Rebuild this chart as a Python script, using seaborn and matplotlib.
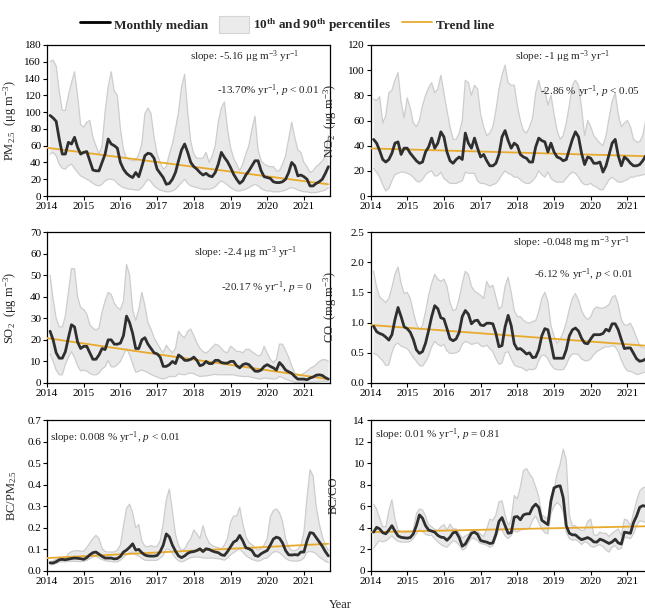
import numpy as np
import pandas as pd
import matplotlib
matplotlib.use("Agg")
import matplotlib.pyplot as plt
import seaborn as sns
from matplotlib.lines import Line2D
from matplotlib.patches import Patch

# ---------------- data (monthly, Feb 2014 .. Sep 2021) ----------------
months = pd.date_range("2014-02-01", periods=92, freq="MS")

pm25_med = [96, 93, 89, 68, 50, 50, 64, 62, 70, 58, 50, 52, 53, 42, 31, 30, 30, 40, 50, 68, 62, 60, 57, 40,
            32, 27, 24, 22, 28, 23, 35, 48, 51, 50, 45, 32, 27, 22, 14, 15, 20, 28, 42, 55, 62, 52, 40, 35,
            32, 28, 25, 27, 24, 23, 28, 38, 52, 46, 41, 34, 26, 20, 15, 18, 25, 30, 36, 42, 42, 30, 23, 22,
            21, 17, 16, 16, 17, 20, 28, 40, 36, 24, 25, 23, 20, 12, 12, 15, 17, 20, 27, 35]
pm25_p90 = [160, 162, 155, 125, 102, 102, 120, 135, 148, 120, 85, 82, 88, 90, 70, 60, 50, 60, 100, 130, 148, 125, 120, 80,
            55, 45, 43, 42, 42, 50, 62, 98, 105, 98, 70, 50, 40, 32, 35, 50, 62, 80, 100, 130, 145, 100, 65, 50,
            45, 45, 45, 52, 40, 48, 60, 88, 105, 112, 80, 58, 45, 38, 30, 38, 50, 60, 80, 95, 55, 42, 38, 36,
            35, 35, 30, 30, 38, 48, 68, 88, 70, 55, 52, 40, 35, 28, 30, 35, 38, 42, 48, 72]
pm25_p10 = [50, 52, 48, 38, 33, 32, 36, 38, 33, 28, 24, 22, 20, 18, 15, 13, 12, 14, 18, 20, 20, 19, 15, 12,
            10, 9, 8, 8, 7, 7, 10, 15, 20, 17, 12, 9, 7, 6, 5, 5, 6, 8, 12, 16, 20, 15, 12, 11,
            10, 9, 8, 8, 8, 9, 11, 15, 18, 16, 13, 10, 8, 6, 6, 7, 8, 10, 12, 14, 12, 9, 7, 6,
            6, 5, 5, 5, 6, 7, 9, 10, 9, 7, 6, 5, 5, 4, 4, 4, 5, 6, 7, 10]
pm25_trend = [57.5, 14.0]

no2_med = [45, 42, 36, 29, 27, 29, 34, 42, 43, 33, 38, 38, 34, 31, 28, 26, 27, 35, 39, 46, 38, 42, 51, 47,
           35, 28, 26, 29, 31, 29, 50, 42, 38, 46, 38, 31, 33, 28, 24, 24, 26, 33, 47, 52, 44, 38, 42, 40,
           33, 31, 30, 27, 27, 39, 46, 44, 43, 35, 42, 35, 31, 30, 28, 29, 37, 45, 51, 47, 34, 25, 31, 30,
           26, 26, 27, 19, 24, 33, 42, 45, 32, 24, 31, 29, 26, 24, 24, 25, 28, 32, 33, 33]
no2_p90 = [77, 76, 79, 58, 64, 82, 84, 92, 98, 75, 62, 78, 70, 58, 55, 60, 72, 80, 86, 90, 82, 85, 96, 82,
           68, 55, 45, 45, 50, 60, 92, 90, 80, 88, 85, 65, 55, 48, 50, 55, 68, 85, 96, 104, 90, 88, 88, 72,
           60, 52, 50, 55, 62, 82, 92, 82, 85, 72, 80, 65, 52, 45, 48, 58, 72, 88, 92, 88, 70, 48, 60, 55,
           48, 45, 42, 40, 48, 62, 75, 82, 65, 55, 58, 60, 55, 45, 43, 43, 48, 60, 65, 70]
no2_p10 = [22, 19, 15, 9, 4, 6, 12, 17, 18, 19, 19, 18, 17, 15, 12, 11, 13, 17, 19, 20, 16, 16, 19, 14,
           12, 10, 10, 10, 11, 12, 19, 18, 18, 18, 12, 10, 10, 9, 8, 9, 10, 13, 17, 20, 18, 17, 15, 15,
           13, 11, 10, 10, 12, 15, 20, 17, 15, 19, 14, 12, 11, 11, 11, 14, 17, 19, 18, 15, 11, 9, 9, 10,
           8, 7, 5, 5, 9, 13, 15, 13, 11, 11, 12, 13, 15, 15, 16, 16, 17, 17, 18, 18]
no2_trend = [37.8, 31.5]

so2_med = [24, 20, 14, 11.5, 11.5, 14.5, 21, 27, 26, 19, 16, 17, 17, 14, 11, 11, 13, 16, 15.5, 20, 20, 18, 18, 18.5,
           22, 31, 28, 23, 16, 16, 20, 21, 18, 16, 14, 13.5, 12, 7.7, 7.7, 8.5, 10, 9, 13, 12, 10.5, 10.5, 11, 12,
           10.5, 8, 8.5, 10, 9, 9, 10.5, 10.5, 9.5, 9.2, 9.2, 10, 10, 8, 7, 8.5, 9, 8.5, 7, 5.5, 5.4, 6, 7.7, 8.5,
           7.7, 7, 6, 9.5, 8, 6, 5.2, 4.5, 3, 1.8, 1.8, 1.8, 1.5, 2.3, 2.8, 3.6, 3.8, 3.5, 2.5, 1.8]
so2_p90 = [50, 39, 30, 26, 26, 31, 42, 53, 53, 40, 35, 34, 32, 27, 25.5, 24.5, 25.5, 33, 38, 42, 41, 37, 35, 34,
           38, 55, 50, 34, 29, 34, 42, 36, 28, 25, 21, 18.5, 16, 14, 17.5, 15.5, 14, 16, 24, 22, 21, 24, 25, 22,
           18.5, 16, 14.6, 13.8, 15, 16.5, 18, 17.5, 16, 14.5, 14, 17, 16, 14.6, 14.6, 14, 15.5, 15.7, 14.5, 13.5, 12.5, 13, 17, 13.8,
           11, 9.5, 11, 18, 18, 15, 12, 8, 4.5, 3.8, 3.8, 4.6, 5.4, 6.8, 7.5, 8.5, 10, 10.8, 10.8, 10]
so2_p10 = [13.5, 10, 6, 3.8, 3.8, 8.5, 12, 14.5, 12, 8, 5.6, 6, 5.5, 4.5, 3.8, 3.8, 4.6, 6.5, 7.5, 10.5, 7.5, 7.5, 8.5, 10,
           13, 16, 13, 9, 5, 5.4, 6, 5.5, 4.8, 4, 3.3, 2.8, 2.2, 1.9, 2.3, 3, 3, 3, 4.3, 4, 3.8, 4.3, 4.6, 4.3,
           3.6, 3, 3.2, 3.3, 3.5, 3.8, 4, 3.8, 3.8, 3.8, 3.8, 3.8, 3.8, 3.4, 3.2, 3, 3, 3, 2.6, 2.3, 1.9, 1.9, 2.3, 2.2,
           2, 1.8, 2, 3, 2.5, 1.8, 1.3, 0.8, 0.3, 0.3, 0.3, 0.3, 0.3, 0.3, 0.3, 0.4, 0.6, 0.8, 0.8, 0.8]
so2_trend = [20.8, 1.8]

co_med = [0.94, 0.85, 0.82, 0.80, 0.76, 0.71, 0.80, 1.05, 1.25, 1.10, 0.93, 0.90, 0.84, 0.72, 0.55, 0.49, 0.52, 0.66,
          0.87, 1.10, 1.28, 1.23, 1.08, 1.06, 0.90, 0.73, 0.70, 0.73, 0.84, 1.10, 1.20, 1.14, 0.98, 1.03, 1.04, 0.96,
          0.95, 0.99, 0.99, 0.98, 0.82, 0.60, 0.62, 0.93, 1.12, 0.95, 0.65, 0.56, 0.57, 0.53, 0.48, 0.50, 0.42, 0.43,
          0.55, 0.78, 0.90, 0.88, 0.66, 0.41, 0.41, 0.41, 0.41, 0.55, 0.78, 0.88, 0.91, 0.86, 0.74, 0.66, 0.65, 0.73,
          0.80, 0.80, 0.80, 0.82, 0.89, 0.86, 0.98, 0.98, 0.88, 0.72, 0.57, 0.58, 0.58, 0.49, 0.40, 0.36, 0.37, 0.40,
          0.45, 0.50]
co_p90 = [1.85, 1.59, 1.42, 1.38, 1.33, 1.40, 1.58, 1.80, 1.92, 1.65, 1.48, 1.50, 1.40, 1.18, 0.98, 0.88, 0.95, 1.18,
          1.45, 1.65, 1.80, 1.72, 1.68, 1.72, 1.60, 1.33, 1.20, 1.22, 1.40, 1.65, 1.85, 1.80, 1.60, 1.52, 1.49, 1.45,
          1.40, 1.68, 1.58, 1.62, 1.42, 1.22, 1.28, 1.60, 1.75, 1.50, 1.20, 1.10, 1.10, 1.04, 1.00, 0.99, 1.02, 1.03,
          1.18, 1.40, 1.50, 1.35, 0.95, 0.78, 0.66, 0.72, 0.84, 1.00, 1.22, 1.40, 1.48, 1.37, 1.20, 1.10, 1.05, 1.10,
          1.22, 1.26, 1.24, 1.24, 1.26, 1.30, 1.42, 1.45, 1.30, 1.05, 0.96, 0.96, 0.99, 0.88, 0.75, 0.62, 0.58, 0.58,
          0.60, 0.62]
co_p10 = [0.49, 0.47, 0.42, 0.37, 0.29, 0.30, 0.50, 0.63, 0.66, 0.61, 0.59, 0.57, 0.50, 0.42, 0.36, 0.29, 0.28, 0.35,
          0.45, 0.60, 0.69, 0.64, 0.61, 0.64, 0.53, 0.49, 0.49, 0.50, 0.53, 0.64, 0.69, 0.67, 0.64, 0.65, 0.67, 0.62,
          0.60, 0.63, 0.57, 0.52, 0.40, 0.31, 0.33, 0.50, 0.52, 0.40, 0.30, 0.27, 0.26, 0.24, 0.20, 0.23, 0.22, 0.24,
          0.37, 0.46, 0.46, 0.40, 0.30, 0.24, 0.22, 0.22, 0.22, 0.30, 0.42, 0.48, 0.48, 0.47, 0.40, 0.37, 0.37, 0.40,
          0.47, 0.52, 0.55, 0.58, 0.60, 0.60, 0.62, 0.60, 0.52, 0.38, 0.27, 0.20, 0.19, 0.17, 0.14, 0.15, 0.17, 0.18,
          0.18, 0.18]
co_trend = [0.96, 0.61]

bcpm_med = [0.038, 0.037, 0.043, 0.052, 0.054, 0.052, 0.055, 0.058, 0.060, 0.059, 0.057, 0.054, 0.062, 0.075, 0.085,
            0.088, 0.078, 0.068, 0.060, 0.060, 0.060, 0.056, 0.058, 0.068, 0.088, 0.097, 0.11, 0.126, 0.097, 0.100,
            0.085, 0.074, 0.070, 0.069, 0.069, 0.072, 0.09, 0.12, 0.172, 0.158, 0.12, 0.092, 0.07, 0.062, 0.07,
            0.082, 0.088, 0.090, 0.095, 0.103, 0.09, 0.103, 0.100, 0.093, 0.088, 0.085, 0.075, 0.072, 0.09, 0.112,
            0.134, 0.142, 0.165, 0.14, 0.108, 0.103, 0.095, 0.072, 0.068, 0.08, 0.088, 0.095, 0.12, 0.148, 0.157,
            0.152, 0.13, 0.095, 0.075, 0.074, 0.076, 0.074, 0.088, 0.088, 0.14, 0.178, 0.175, 0.155, 0.135, 0.115,
            0.09, 0.07]
bcpm_p90 = [0.042, 0.048, 0.054, 0.057, 0.058, 0.06, 0.08, 0.09, 0.093, 0.095, 0.092, 0.092, 0.108, 0.13, 0.15,
            0.165, 0.15, 0.105, 0.09, 0.088, 0.088, 0.088, 0.098, 0.12, 0.21, 0.29, 0.31, 0.27, 0.2, 0.215,
            0.14, 0.115, 0.112, 0.118, 0.112, 0.115, 0.14, 0.22, 0.33, 0.38, 0.28, 0.17, 0.118, 0.095, 0.102,
            0.13, 0.15, 0.19, 0.172, 0.15, 0.21, 0.16, 0.13, 0.118, 0.112, 0.108, 0.103, 0.12, 0.15, 0.225,
            0.255, 0.255, 0.295, 0.22, 0.16, 0.133, 0.122, 0.11, 0.097, 0.105, 0.12, 0.15, 0.25, 0.28, 0.288,
            0.27, 0.23, 0.15, 0.11, 0.095, 0.095, 0.1, 0.118, 0.18, 0.34, 0.47, 0.44, 0.3, 0.22, 0.16,
            0.12, 0.095]
bcpm_p10 = [0.029, 0.03, 0.035, 0.042, 0.043, 0.043, 0.044, 0.045, 0.045, 0.044, 0.044, 0.045, 0.049, 0.057, 0.065,
            0.068, 0.06, 0.053, 0.048, 0.045, 0.044, 0.042, 0.043, 0.05, 0.065, 0.075, 0.085, 0.088, 0.075, 0.07,
            0.058, 0.05, 0.049, 0.049, 0.049, 0.05, 0.06, 0.072, 0.1, 0.1, 0.082, 0.06, 0.048, 0.042, 0.048,
            0.055, 0.062, 0.064, 0.065, 0.064, 0.06, 0.06, 0.06, 0.06, 0.058, 0.057, 0.054, 0.05, 0.06, 0.075,
            0.085, 0.095, 0.102, 0.088, 0.072, 0.062, 0.054, 0.049, 0.045, 0.05, 0.058, 0.06, 0.075, 0.088, 0.09,
            0.085, 0.072, 0.058, 0.05, 0.047, 0.046, 0.046, 0.05, 0.06, 0.088, 0.09, 0.088, 0.08, 0.065, 0.055,
            0.045, 0.04]
bcpm_trend = [0.06, 0.126]

bcco_med = [3.6, 4.05, 3.9, 3.55, 3.45, 3.8, 4.2, 3.7, 3.25, 3.12, 3.08, 3.05, 3.1, 3.45, 4.2, 5.2, 4.9, 4.2,
            3.8, 3.7, 3.6, 3.3, 3.14, 3.1, 2.85, 3.14, 3.55, 3.6, 3.1, 2.3, 2.5, 3.0, 3.5, 3.6, 3.4, 2.83,
            2.74, 2.68, 2.55, 2.6, 3.4, 4.6, 4.95, 4.2, 3.5, 3.55, 5.0, 5.05, 4.75, 5.2, 5.3, 5.3, 5.9, 6.2,
            5.9, 4.7, 4.5, 4.3, 6.5, 7.7, 7.85, 7.9, 6.8, 4.2, 3.5, 3.35, 3.35, 3.1, 2.9, 3.0, 3.1, 2.95,
            2.7, 2.68, 2.95, 2.85, 2.7, 2.55, 2.7, 2.95, 2.6, 2.5, 3.6, 3.55, 3.5, 4.5, 5.1, 5.9, 6.06, 6.0,
            5.8, 5.5]
bcco_p90 = [6.2, 5.75, 4.9, 4.1, 4.1, 5.6, 6.6, 4.85, 3.8, 3.65, 3.6, 3.6, 3.6, 3.75, 5.3, 5.75, 5.65, 5.1,
            4.3, 4.1, 3.85, 3.75, 4.1, 4.3, 3.8, 4.35, 3.9, 3.9, 3.5, 3.05, 3.25, 3.4, 3.7, 3.85, 3.7, 3.4,
            3.2, 3.9, 4.8, 4.7, 5.2, 6.4, 6.5, 5.2, 4.25, 4.7, 7.0, 6.7, 7.8, 9.3, 9.5, 9.0, 8.6, 7.8,
            6.9, 5.2, 5.0, 4.8, 6.9, 7.5, 9.0, 9.9, 11.3, 10.3, 5.2, 4.2, 4.2, 3.9, 3.75, 3.8, 4.6, 4.8,
            3.35, 3.3, 3.6, 3.5, 3.5, 3.2, 3.5, 3.7, 3.9, 3.3, 4.8, 4.7, 4.2, 5.4, 6.5, 7.4, 7.7, 7.8,
            7.5, 7.2]
bcco_p10 = [2.1, 2.5, 2.83, 2.7, 2.8, 3.0, 3.25, 2.95, 2.75, 2.68, 2.68, 2.68, 2.75, 3.0, 3.45, 3.85, 3.65, 3.4,
            3.3, 3.3, 3.0, 2.7, 2.45, 2.3, 2.2, 2.5, 2.8, 2.7, 2.4, 1.95, 2.1, 2.6, 3.05, 3.0, 2.8, 2.55,
            2.5, 2.4, 2.2, 2.35, 3.1, 3.85, 3.8, 3.25, 3.0, 3.3, 3.75, 3.6, 3.8, 3.85, 3.9, 4.0, 4.7, 5.1,
            4.5, 3.9, 3.55, 3.45, 5.3, 6.0, 6.35, 6.1, 5.5, 3.6, 3.0, 2.85, 2.9, 2.75, 2.45, 2.7, 2.6, 2.3,
            2.2, 2.35, 2.45, 2.25, 1.95, 1.75, 2.2, 2.35, 2.0, 2.1, 3.1, 3.1, 3.0, 3.45, 4.2, 4.65, 4.6, 4.5,
            4.4, 4.3]
bcco_trend = [3.6, 4.16]

trend_years = [2014.0, 2021.66]
year_ticks = [2014, 2015, 2016, 2017, 2018, 2019, 2020, 2021]

# ---------------- style ----------------
sns.set_theme(style="white")
plt.rcParams["font.family"] = ["Liberation Serif", "DejaVu Serif"]
plt.rcParams["mathtext.fontset"] = "custom"
plt.rcParams["mathtext.rm"] = "Liberation Serif"
plt.rcParams["mathtext.it"] = "Liberation Serif:italic"
plt.rcParams["mathtext.bf"] = "Liberation Serif:bold"

BAND_FACE = "#E9E9E9"
BAND_EDGE = "#CDCDCD"
MED_COLOR = "#2F2F2F"
TREND_COLOR = "#E8AA2C"

dec_year = months.year + (months.month - 1) / 12.0

panels = [
    dict(med=pm25_med, hi=pm25_p90, lo=pm25_p10, trend=pm25_trend, ylim=(0, 180), yticks=np.arange(0, 181, 20),
         fmt="{:.0f}", ylabel="PM$_{2.5}$  (μg m$^{-3}$)",
         texts=[("slope: -5.16 μg m$^{-3}$ yr$^{-1}$", 0.505, 0.92),
                ("-13.70% yr$^{-1}$, $p$ < 0.01", 0.6, 0.7)]),
    dict(med=no2_med, hi=no2_p90, lo=no2_p10, trend=no2_trend, ylim=(0, 120), yticks=np.arange(0, 121, 20),
         fmt="{:.0f}", ylabel="NO$_2$  (μg m$^{-3}$)",
         texts=[("slope: -1 μg m$^{-3}$ yr$^{-1}$", 0.51, 0.92),
                ("-2.86 % yr$^{-1}$, $p$ < 0.05", 0.6, 0.69)]),
    dict(med=so2_med, hi=so2_p90, lo=so2_p10, trend=so2_trend, ylim=(0, 70), yticks=np.arange(0, 71, 10),
         fmt="{:.0f}", ylabel="SO$_2$  (μg m$^{-3}$)",
         texts=[("slope: -2.4 μg m$^{-3}$ yr$^{-1}$", 0.52, 0.86),
                ("-20.17 % yr$^{-1}$, $p$ = 0", 0.615, 0.63)]),
    dict(med=co_med, hi=co_p90, lo=co_p10, trend=co_trend, ylim=(0, 2.5), yticks=np.arange(0, 2.51, 0.5),
         fmt="{:.1f}", ylabel="CO  (mg m$^{-3}$)",
         texts=[("slope: -0.048 mg m$^{-3}$ yr$^{-1}$", 0.503, 0.93),
                ("-6.12 % yr$^{-1}$, $p$ < 0.01", 0.577, 0.72)]),
    dict(med=bcpm_med, hi=bcpm_p90, lo=bcpm_p10, trend=bcpm_trend, ylim=(0, 0.7), yticks=np.arange(0, 0.71, 0.1),
         fmt="{:.1f}", ylabel="BC/PM$_{2.5}$",
         texts=[("slope: 0.008 % yr$^{-1}$, $p$ < 0.01", 0.012, 0.88)]),
    dict(med=bcco_med, hi=bcco_p90, lo=bcco_p10, trend=bcco_trend, ylim=(0, 14), yticks=np.arange(0, 15, 2),
         fmt="{:.0f}", ylabel="BC/CO",
         texts=[("slope: 0.01 % yr$^{-1}$, $p$ = 0.81", 0.015, 0.9)]),
]

W, H = 645, 612
fig = plt.figure(figsize=(W / 100, H / 100), dpi=100)
fig.patch.set_facecolor("white")

ax_w = 283 / W
ax_h = 151 / H
lefts = [47 / W, 370.5 / W]
bottoms = [1 - 196 / H, 1 - 383 / H, 1 - 571 / H]
label_x = [-0.1, -0.11]

for k, p in enumerate(panels):
    r, c = divmod(k, 2)
    ax = fig.add_axes([lefts[c], bottoms[r], ax_w, ax_h])
    df = pd.DataFrame({"year": dec_year, "median": p["med"], "p90": p["hi"], "p10": p["lo"]})
    ax.fill_between(df["year"], df["p10"], df["p90"], facecolor=BAND_FACE, edgecolor="none", zorder=1)
    sns.lineplot(data=df, x="year", y="p90", ax=ax, color=BAND_EDGE, linewidth=0.9, zorder=2)
    sns.lineplot(data=df, x="year", y="p10", ax=ax, color=BAND_EDGE, linewidth=0.9, zorder=2)
    tdf = pd.DataFrame({"year": trend_years, "trend": p["trend"]})
    sns.lineplot(data=tdf, x="year", y="trend", ax=ax, color=TREND_COLOR, linewidth=1.3, zorder=3)
    sns.lineplot(data=df, x="year", y="median", ax=ax, color=MED_COLOR, linewidth=2.0, zorder=4)

    ax.set_xlim(2014, 2021.71)
    ax.set_ylim(*p["ylim"])
    ax.set_xticks(year_ticks)
    ax.set_xticklabels([str(y) for y in year_ticks], fontsize=8)
    ax.set_yticks(p["yticks"])
    ax.set_yticklabels([p["fmt"].format(v) for v in p["yticks"]], fontsize=8)
    ax.tick_params(axis="both", direction="out", length=3, width=0.8, pad=1.2,
                   bottom=True, left=True, colors="black")
    for s in ax.spines.values():
        s.set_color("black")
        s.set_linewidth(0.9)
    ax.set_xlabel("")
    ax.set_ylabel(p["ylabel"], fontsize=9)
    ax.yaxis.set_label_coords(label_x[c], 0.5)
    for (txt, tx, ty) in p["texts"]:
        ax.text(tx, ty, txt, transform=ax.transAxes, fontsize=8, ha="left", va="center")

fig.text(340 / W, 1 - 605 / H, "Year", fontsize=9, ha="center", va="center")

handles = [Line2D([0], [0], color="black", linewidth=2),
           Patch(facecolor="#EBEBEB", edgecolor="#D5D5D5", linewidth=0.8),
           Line2D([0], [0], color=TREND_COLOR, linewidth=1.3)]
labels = ["Monthly median", "10$^{\\mathbf{th}}$ and 90$^{\\mathbf{th}}$ percentiles", "Trend line"]
fig.legend(handles, labels, loc="center", bbox_to_anchor=(287 / W, 1 - 25 / H), ncol=3, frameon=False,
           prop={"family": "Liberation Serif", "weight": "bold", "size": 9.5},
           handlelength=2.3, handletextpad=0.3, columnspacing=0.8, handleheight=1.6)

fig.savefig("out.png", dpi=100)
